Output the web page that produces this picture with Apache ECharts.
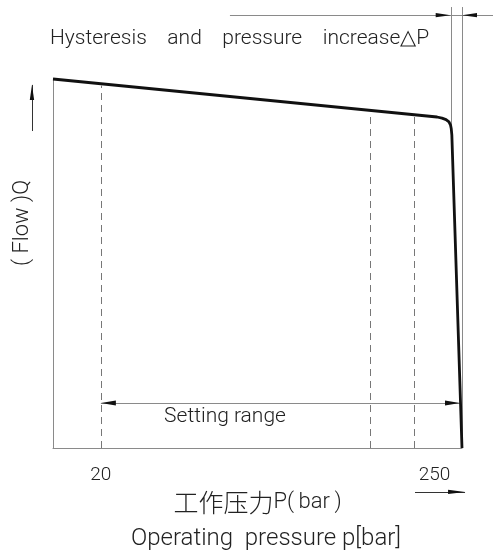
<!DOCTYPE html>
<html>
<head>
<meta charset="utf-8">
<script src="https://cdn.jsdelivr.net/npm/echarts@6/dist/echarts.min.js"></script>
<style>
  html, body { margin: 0; padding: 0; background: #fff; }
  #chart { width: 493px; height: 558px; }
</style>
</head>
<body>
<div id="chart"></div>
<script>
// characteristic curve: operating pressure (bar) vs flow (relative)
const pressure = [-13, 251.8, 255.2, 258.0, 260.0, 261.1, 261.6, 262.0, 269];
const flow = [100, 89.7, 89.4, 89.0, 88.4, 87.5, 86.5, 84.8, 0];

// dashed guide lines and where they meet the curve
const guideX = [20, 205.6, 235.9];
const guideTop = [98.2, 91.0, 89.8];

// tick labels on the pressure axis
const tickValues = [20, 250];

// hysteresis lines / dimension, setting range
const hystX = [261.2, 269];
const hystTop = 119.5;
const hystBottom = [86.6, 0];
const dimY = 117.3;
const dimStart = 109;
const dimEnd = 290.4;
const rangeY = 12.2;
const rangeEnd = 267.6;

// axis direction arrows
const qArrow = { x: -27.5, from: 85.9, to: 98.4 };
const pArrow = { y: -11.9, from: 236.6, to: 271.1 };

const thin = '#8a8a8a';
const ink = '#222';
const font = 'Roboto, "Noto Sans", sans-serif';

const chart = echarts.init(document.getElementById('chart'));
chart.setOption({
  animation: false,
  textStyle: { fontFamily: font, fontWeight: 300, color: ink },
  title: [
    {
      text: 'Hysteresis    and    pressure    increase\u25b3P',
      left: 50, top: 28, padding: 0,
      textStyle: { fontSize: 21, fontWeight: 300, color: ink, fontFamily: font }
    },
    {
      text: 'Operating  pressure p[bar]',
      left: 131, top: 527, padding: 0,
      textStyle: { fontSize: 24, fontWeight: 300, color: ink, fontFamily: font }
    }
  ],
  grid: { left: 53, right: 31, top: 79, bottom: 110 },
  xAxis: {
    type: 'value',
    min: -13,
    max: 269,
    name: '{cn|工作压力}{en|P(\u2009bar\u2009)}',
    nameLocation: 'middle',
    nameGap: 41,
    nameTextStyle: {
      rich: {
        cn: { fontSize: 25, fontFamily: '"Noto Sans CJK SC", sans-serif', fontWeight: 300, color: ink },
        en: { fontSize: 22, fontFamily: font, fontWeight: 300, color: ink }
      }
    },
    axisLine: { lineStyle: { color: thin, width: 1 } },
    axisTick: { show: false },
    splitLine: { show: false },
    axisLabel: {
      customValues: tickValues,
      margin: 18,
      fontSize: 19,
      color: ink
    }
  },
  yAxis: {
    type: 'value',
    min: 0,
    max: 100,
    axisLine: { show: true, onZero: false, lineStyle: { color: thin, width: 1 } },
    axisTick: { show: false },
    splitLine: { show: false },
    axisLabel: { show: false }
  },
  series: [
    {
      type: 'line',
      data: pressure.map((p, i) => [p, flow[i]]),
      showSymbol: false,
      clip: false,
      silent: true,
      lineStyle: { color: '#111', width: 2.8, join: 'round' },
      markPoint: {
        silent: true,
        symbol: 'circle',
        symbolSize: 0,
        label: {
          show: true,
          position: 'inside',
          formatter: 'Setting range',
          fontSize: 21,
          fontWeight: 300,
          color: ink,
          fontFamily: font
        },
        data: [{ coord: [105.6, 8.4] }]
      }
    }
  ]
});

// annotation lines, placed through the chart's own scales
const px = (x, y) => chart.convertToPixel({ gridIndex: 0 }, [x, y]);
const crisp = v => Math.round(v) + 0.5;

function seg(a, b, opts) {
  opts = opts || {};
  const vert = Math.abs(a[0] - b[0]) < 0.01;
  const horiz = Math.abs(a[1] - b[1]) < 0.01;
  return {
    type: 'line',
    silent: true,
    shape: {
      x1: vert ? crisp(a[0]) : a[0], y1: horiz ? crisp(a[1]) : a[1],
      x2: vert ? crisp(b[0]) : b[0], y2: horiz ? crisp(b[1]) : b[1]
    },
    style: { stroke: opts.color || thin, lineWidth: 1, lineDash: opts.dash || null }
  };
}

function head(from, tip, len, hw) {
  const dx = tip[0] - from[0], dy = tip[1] - from[1];
  const d = Math.hypot(dx, dy);
  const ux = dx / d, uy = dy / d;
  const bx = tip[0] - ux * len, by = tip[1] - uy * len;
  return {
    type: 'polygon',
    silent: true,
    z: 10,
    shape: { points: [tip, [bx - uy * hw, by + ux * hw], [bx + uy * hw, by - ux * hw]] },
    style: { fill: '#111' }
  };
}

const g = [];
guideX.forEach((x, i) => {
  g.push(seg(px(x, 0), px(x, guideTop[i]), { color: '#777', dash: [7, 5] }));
});
hystX.forEach((x, i) => g.push(seg(px(x, hystTop), px(x, hystBottom[i]))));

// hysteresis dimension at the top
const dA = px(dimStart, dimY), dB = px(hystX[0], dimY), dC = px(hystX[1], dimY), dD = px(dimEnd, dimY);
g.push(seg(dA, dD));
g.push(head(dA, dB, 15, 2.2));
g.push(head(dD, dC, 15, 2.2));

// setting range
const rA = px(guideX[0], rangeY), rB = px(rangeEnd, rangeY);
g.push(seg(rA, rB));
g.push(head(rB, rA, 15, 2.6));
g.push(head(rA, rB, 15, 2.6));

// axis direction arrows
const qA = px(qArrow.x, qArrow.from), qB = px(qArrow.x, qArrow.to);
g.push(seg(qA, qB, { color: '#333' }));
g.push(head(qA, qB, 15, 2.2));
const pA = px(pArrow.from, pArrow.y), pB = px(pArrow.to, pArrow.y);
g.push(seg(pA, pB, { color: '#333' }));
g.push(head(pA, pB, 17, 2.2));

// flow label, beside the left axis
const qLabel = px(qArrow.x, 61);
g.push({
  type: 'text',
  silent: true,
  x: qLabel[0] - 9,
  y: qLabel[1],
  rotation: Math.PI / 2,
  style: {
    text: '( Flow )Q',
    font: '300 22px ' + font,
    fill: ink,
    align: 'center',
    verticalAlign: 'middle'
  }
});

chart.setOption({ graphic: g });
</script>
</body>
</html>
